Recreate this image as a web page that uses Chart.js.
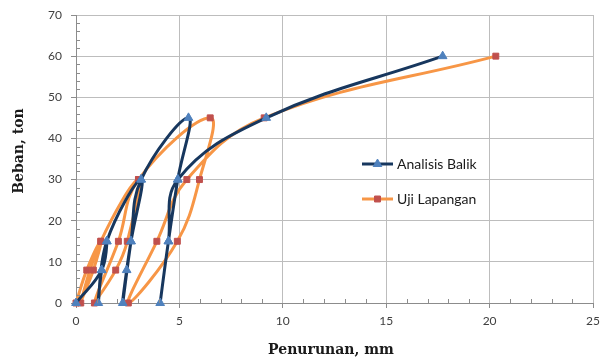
<!DOCTYPE html>
<html>
<head>
<meta charset="utf-8">
<script src="https://cdn.jsdelivr.net/npm/chart.js@4.4.1/dist/chart.umd.min.js"></script>
<style>
  html, body { margin: 0; padding: 0; background: #ffffff; }
  canvas { display: block; }
</style>
</head>
<body>
<canvas id="chart" width="601" height="363"></canvas>
<script>
// Load-settlement cycles: settlement in mm, load in ton
const balikSettlement = [0, 1.24, 1.49, 1.24, 1.08, 1.49, 3.15, 2.66, 2.45, 2.26, 2.66, 3.15, 5.44, 4.92, 4.47, 4.07, 4.47, 4.92, 9.2, 17.73];
const balikLoad       = [0, 8, 15, 8, 0, 15, 30, 15, 8, 0, 15, 30, 45, 30, 15, 0, 15, 30, 45, 60];

const lapanganSettlement = [0, 0.52, 1.2, 0.84, 0.23, 1.2, 3.02, 2.48, 1.92, 0.89, 2.05, 3.02, 6.49, 5.97, 4.9, 2.53, 3.91, 5.36, 9.1, 20.3];
const lapanganLoad       = [0, 8, 15, 8, 0, 15, 30, 15, 8, 0, 15, 30, 45, 30, 15, 0, 15, 30, 45, 60];

const seriesNames = ['Analisis Balik', 'Uji Lapangan'];
const xTickValues = [0, 5, 10, 15, 20, 25];
const yTickValues = [0, 10, 20, 30, 40, 50, 60, 70];
const xAxisTitle = 'Penurunan, mm';
const yAxisTitle = 'Beban, ton';

const NAVY = '#17375E';
const BLUE_MARK = '#4F81BD';
const ORANGE = '#F79646';
const RED_MARK = '#C0504D';
const GRID = '#BDBDBD';
const AXIS = '#8C8C8C';

function toPoints(xs, ys) {
  return xs.map((x, i) => ({ x: x, y: ys[i] }));
}

// minor tick marks, axis titles and the in-plot legend
const decorations = {
  id: 'decorations',
  afterDraw(chart) {
    const ctx = chart.ctx;
    const xs = chart.scales.x;
    const ys = chart.scales.y;
    const area = chart.chartArea;
    ctx.save();

    // minor ticks pointing into the plot
    ctx.strokeStyle = AXIS;
    ctx.lineWidth = 1;
    ctx.beginPath();
    for (let v = 1; v < 25; v++) {
      if (v % 5 === 0) continue;
      const px = Math.round(xs.getPixelForValue(v)) + 0.5;
      ctx.moveTo(px, area.bottom);
      ctx.lineTo(px, area.bottom - 4);
    }
    for (let v = 2; v < 70; v += 2) {
      if (v % 10 === 0) continue;
      const py = Math.round(ys.getPixelForValue(v)) + 0.5;
      ctx.moveTo(area.left, py);
      ctx.lineTo(area.left + 4, py);
    }
    ctx.stroke();

    // axis titles
    ctx.fillStyle = '#1a1a1a';
    ctx.font = 'bold 14px "DejaVu Serif"';
    ctx.textAlign = 'center';
    ctx.textBaseline = 'middle';
    ctx.fillText(xAxisTitle, 331, 350);
    ctx.save();
    ctx.translate(19, 151);
    ctx.rotate(-Math.PI / 2);
    ctx.fillText(yAxisTitle, 0, 0);
    ctx.restore();

    // legend
    const entries = [
      { y: 164, line: NAVY, mark: BLUE_MARK, style: 'triangle', r: 5 },
      { y: 199, line: ORANGE, mark: RED_MARK, style: 'rect', r: 4.2 }
    ];
    ctx.font = '14px Lato';
    ctx.textAlign = 'left';
    entries.forEach((e, i) => {
      ctx.strokeStyle = e.line;
      ctx.lineWidth = 3;
      ctx.beginPath();
      ctx.moveTo(362, e.y);
      ctx.lineTo(393, e.y);
      ctx.stroke();
      ctx.fillStyle = e.mark;
      ctx.strokeStyle = e.mark;
      ctx.lineWidth = 1;
      Chart.helpers.drawPoint(ctx, { pointStyle: e.style, radius: e.r, rotation: 0, borderWidth: 1 }, 377.5, e.y);
      ctx.fillStyle = '#1a1a1a';
      ctx.fillText(seriesNames[i], 397, e.y + 0.5);
    });

    ctx.restore();
  }
};

new Chart(document.getElementById('chart'), {
  type: 'scatter',
  data: {
    datasets: [
      {
        label: seriesNames[0],
        data: toPoints(balikSettlement, balikLoad),
        showLine: true,
        tension: 0.4,
        borderColor: NAVY,
        borderWidth: 3,
        pointStyle: 'triangle',
        pointRadius: 5,
        pointBackgroundColor: BLUE_MARK,
        pointBorderColor: BLUE_MARK,
        pointBorderWidth: 1,
        clip: false,
        order: 0
      },
      {
        label: seriesNames[1],
        data: toPoints(lapanganSettlement, lapanganLoad),
        showLine: true,
        tension: 0.4,
        borderColor: ORANGE,
        borderWidth: 3,
        pointStyle: 'rect',
        pointRadius: 4.2,
        pointBackgroundColor: RED_MARK,
        pointBorderColor: RED_MARK,
        pointBorderWidth: 1,
        clip: false,
        order: 1
      }
    ]
  },
  options: {
    responsive: false,
    animation: false,
    devicePixelRatio: 1,
    layout: { padding: { left: 0, right: 8, top: 15, bottom: 0 } },
    plugins: {
      legend: { display: false },
      tooltip: { enabled: false }
    },
    scales: {
      x: {
        type: 'linear',
        min: 0,
        max: 25,
        afterBuildTicks(scale) { scale.ticks = xTickValues.map(v => ({ value: v })); },
        afterFit(scale) { scale.height = 60; scale.paddingLeft = 0; scale.paddingRight = 0; },
        ticks: { font: { family: 'Lato', size: 12 }, color: '#404040', padding: 6, maxRotation: 0 },
        grid: { color: GRID, tickColor: AXIS, tickLength: 5, lineWidth: 1 },
        border: { color: AXIS, width: 1 }
      },
      y: {
        type: 'linear',
        min: 0,
        max: 70,
        afterBuildTicks(scale) { scale.ticks = yTickValues.map(v => ({ value: v })); },
        afterFit(scale) { scale.width = 76; scale.paddingTop = 0; scale.paddingBottom = 0; },
        ticks: { font: { family: 'Lato', size: 12 }, color: '#404040', padding: 9 },
        grid: { color: GRID, tickColor: AXIS, tickLength: 5, lineWidth: 1 },
        border: { color: AXIS, width: 1 }
      }
    }
  },
  plugins: [decorations]
});
</script>
</body>
</html>
